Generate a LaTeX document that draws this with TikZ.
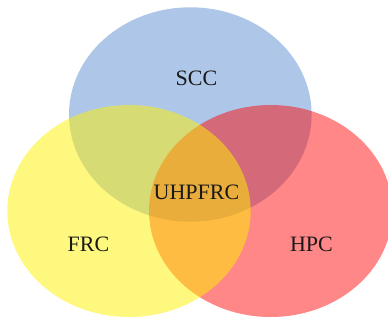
\documentclass[tikz,border=0pt]{standalone}
\usepackage{fontspec}
\setmainfont{Liberation Serif}
\definecolor{sccblue}{RGB}{174,199,232}
\begin{document}
\begin{tikzpicture}[x=1pt,y=-1pt,
  lbl/.style={font=\fontsize{22}{24}\selectfont, text=black!90, inner sep=0pt}]
\useasboundingbox (0,0) rectangle (388,322);
\fill[white] (0,0) rectangle (388,322);
\begin{scope}
\clip (0,0) rectangle (388,322);
\fill[sccblue] (190.3,114.5) ellipse [x radius=121.3, y radius=107.2];
\fill[red, fill opacity=0.47] (270.7,211) ellipse [x radius=121.7, y radius=106];
\fill[yellow, fill opacity=0.5] (129,211) ellipse [x radius=121.7, y radius=106];
\end{scope}
\node[lbl] (scc) at (196.5,78) {SCC};
\node[lbl] (uhp) at (196.5,192.5) {UHPFRC};
\node[lbl] (frc) at (88.5,244.5) {FRC};
\node[lbl] (hpc) at (311.5,244.5) {HPC};
\end{tikzpicture}
\end{document}
